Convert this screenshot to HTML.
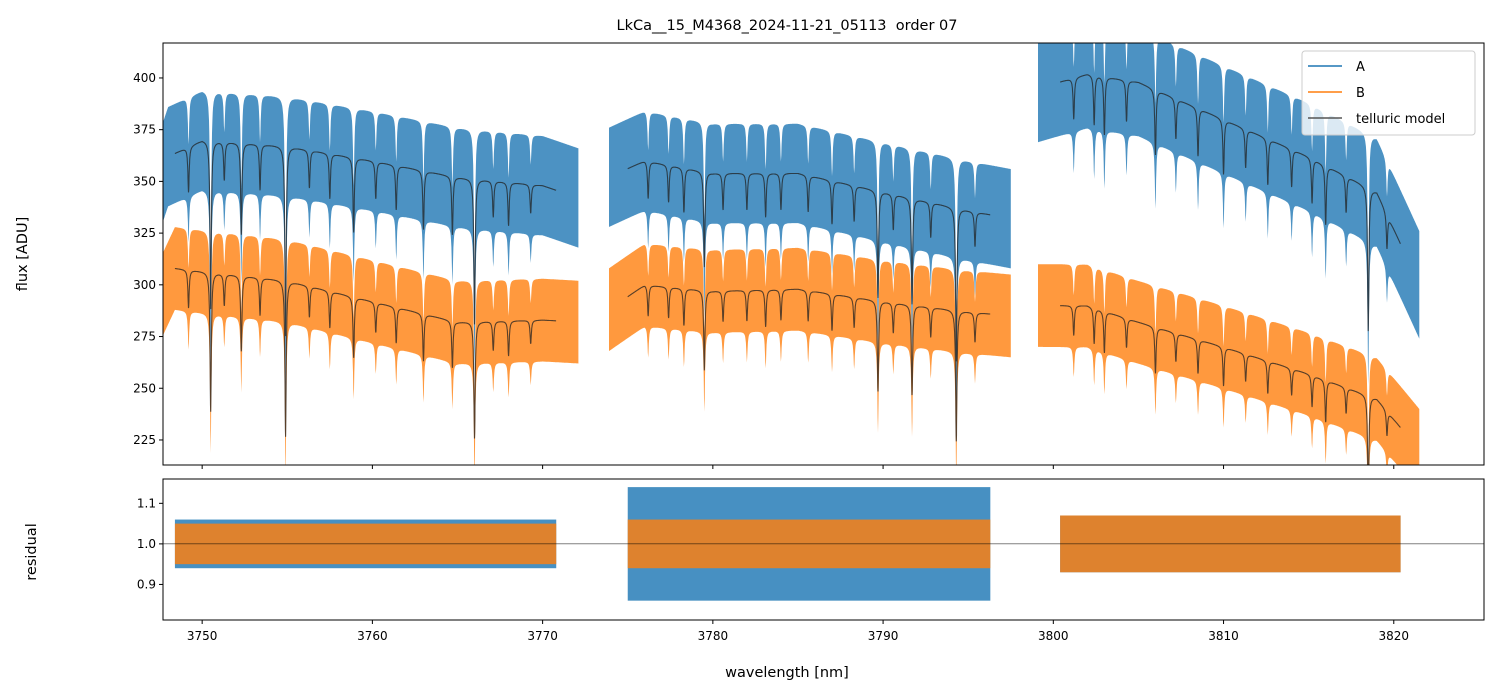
<!DOCTYPE html>
<html><head><meta charset="utf-8">
<style>
html,body{margin:0;padding:0;background:#fff;}
svg{display:block;font-family:"DejaVu Sans","Liberation Sans",sans-serif;}
</style></head>
<body>
<svg id="chart" width="1499" height="696" xmlns="http://www.w3.org/2000/svg">
<text x="787" y="30" text-anchor="middle" font-size="14.5" style="white-space:pre" xml:space="preserve">LkCa__15_M4368_2024-11-21_05113  order 07</text>
<defs>
<clipPath id="clipTop"><rect x="163" y="43" width="1321" height="422"/></clipPath>
<clipPath id="clipBot"><rect x="163" y="479" width="1321" height="141"/></clipPath>
</defs>
<g id="gTop" clip-path="url(#clipTop)"></g>
<g id="gBot" clip-path="url(#clipBot)"></g>
<g id="axes"></g>
</svg>
<script>
// ---- data ----
const xTicks=[3750,3760,3770,3780,3790,3800,3810,3820];
const yTopTicks=[225,250,275,300,325,350,375,400];
const yBotTicks=[0.9,1.0,1.1];
const dataSegs=[[3747.1,3772.1],[3773.9,3797.5],[3799.1,3821.5]];
const modelSegs=[[3748.4,3770.8],[3775.0,3796.3],[3800.4,3820.4]];
const contA=[
 [[3747.1,340],[3748,362],[3750,370],[3755,367],[3760,360],[3765,352],[3770,348],[3772.1,342]],
 [[3773.9,352],[3776,360],[3780,354],[3785,354],[3790,345],[3795,336],[3797.5,332]],
 [[3799.1,395],[3802,402],[3805,398],[3810,380],[3815,362],[3819,345],[3821.5,300]]
];
const contB=[
 [[3747.1,285],[3748.4,308],[3755,302],[3760,292],[3765,282],[3770,283],[3772.1,282]],
 [[3773.9,288],[3776,300],[3780,297],[3785,298],[3790,292],[3795,287],[3797.5,285]],
 [[3799.1,290],[3802,290],[3805,282],[3810,270],[3815,257],[3819,245],[3821.5,220]]
];
const noiseA=[24,24,26];
const noiseB=[20,20,20];
const lineWl=[3749.2,3750.5,3751.3,3752.3,3753.4,3754.9,3756.3,3757.5,3758.9,3760.2,3761.4,3763.0,3764.7,3766.0,3767.1,3768.0,3769.3,
 3776.2,3777.4,3778.3,3779.5,3780.6,3782.0,3783.1,3784.0,3785.6,3787.0,3788.3,3789.7,3790.6,3791.7,3792.8,3794.3,3795.4,
 3801.2,3802.4,3803.0,3804.3,3806.0,3807.2,3808.5,3810.0,3811.3,3812.6,3814.0,3815.2,3816.0,3817.2,3818.5,3819.6];
const lineDepth=[0.06,0.22,0.05,0.12,0.06,0.25,0.05,0.06,0.10,0.05,0.06,0.08,0.08,0.20,0.05,0.06,0.04,
 0.05,0.05,0.06,0.13,0.05,0.05,0.06,0.05,0.05,0.06,0.05,0.15,0.05,0.15,0.05,0.22,0.05,
 0.05,0.06,0.07,0.05,0.08,0.05,0.06,0.07,0.05,0.06,0.05,0.06,0.08,0.05,0.20,0.05];
const resA=[0.06,0.14,0.07];
const resB=[0.05,0.06,0.07];

// ---- axes ----
const X0=163,X1=1484,xmin=3747.7,xmax=3825.3;
const sx=w=>X0+(w-xmin)/(xmax-xmin)*(X1-X0);
const T0=43,T1=465,tmin=212.9,tmax=416.9;
const syT=v=>T1-(v-tmin)/(tmax-tmin)*(T1-T0);
const B0=479,B1=620,bmin=0.8123,bmax=1.16;
const syB=v=>B1-(v-bmin)/(bmax-bmin)*(B1-B0);
const NS="http://www.w3.org/2000/svg";
function mk(tag,attrs,parent){const e=document.createElementNS(NS,tag);for(const k in attrs)e.setAttribute(k,attrs[k]);parent.appendChild(e);return e;}
function interp(pts,w){for(let i=0;i<pts.length-1;i++){if(w<=pts[i+1][0]){const t=(w-pts[i][0])/(pts[i+1][0]-pts[i][0]);return pts[i][1]+t*(pts[i+1][1]-pts[i][1]);}}return pts[pts.length-1][1];}
function trans(w){let t=1;for(let i=0;i<lineWl.length;i++){const d=(w-lineWl[i])/0.045;t*=1-lineDepth[i]/(1+d*d);}return t;}
const gTop=document.getElementById('gTop'),gBot=document.getElementById('gBot'),ax=document.getElementById('axes');
const step=0.02;
function band(cont,noise,color,name){
 cont.forEach((c,si)=>{
  const [a,b]=dataSegs[si];let up=[],lo=[];
  for(let w=a;w<=b;w+=step){const m=interp(c,w),t=trans(w);up.push(sx(w).toFixed(1)+','+syT(m*t+noise[si]*(0.5+0.5*t)).toFixed(1));lo.push(sx(w).toFixed(1)+','+syT(m*t-noise[si]).toFixed(1));}
  const p=mk('polygon',{points:up.concat(lo.reverse()).join(' '),fill:color,'fill-opacity':0.8},gTop);
  
  
 });
}
band(contA,noiseA,'#1f77b4','spectrum-a');
band(contB,noiseB,'#ff7f0e','spectrum-b');
function model(cont,name){
 cont.forEach((c,si)=>{
  const [a,b]=modelSegs[si];let pts=[];
  for(let w=a;w<=b;w+=0.01){pts.push(sx(w).toFixed(1)+','+syT(interp(c,w)*trans(w)).toFixed(1));}
  const p=mk('polyline',{points:pts.join(' '),fill:'none',stroke:'#222','stroke-opacity':0.75,'stroke-width':1.1},gTop);
  
  
 });
}
model(contA,'telluric-model-a');
model(contB,'telluric-model-b');
function rband(hw,color,name){
 modelSegs.forEach((s,si)=>{
  const p=mk('rect',{x:sx(s[0]),y:syB(1+hw[si]),width:sx(s[1])-sx(s[0]),height:syB(1-hw[si])-syB(1+hw[si]),fill:color,'fill-opacity':0.82},gBot);
  
  
 });
}
rband(resA,'#1f77b4','residual-a');
rband(resB,'#ff7f0e','residual-b');
const rl=mk('line',{x1:X0,x2:X1,y1:syB(1),y2:syB(1),stroke:'#000','stroke-width':0.6},gBot);


[[T0,T1,'top-panel-frame'],[B0,B1,'residual-panel-frame']].forEach(f=>{
 const r=mk('rect',{x:X0,y:f[0],width:X1-X0,height:f[1]-f[0],fill:'none',stroke:'#000','stroke-width':1},ax);
 
 
});
xTicks.forEach(v=>{
 const x=sx(v);
 mk('line',{x1:x,x2:x,y1:T1,y2:T1+4,stroke:'#000'},ax);
 mk('line',{x1:x,x2:x,y1:B1,y2:B1+4,stroke:'#000'},ax);
 const t=mk('text',{x:x,y:B1+20,'text-anchor':'middle','font-size':12},ax);
 t.textContent=v;
 
 
});
yTopTicks.forEach(v=>{
 const y=syT(v);
 mk('line',{x1:X0-4,x2:X0,y1:y,y2:y,stroke:'#000'},ax);
 const t=mk('text',{x:X0-7,y:y+4,'text-anchor':'end','font-size':12},ax);
 t.textContent=v;
 
 
});
yBotTicks.forEach(v=>{
 const y=syB(v);
 mk('line',{x1:X0-4,x2:X0,y1:y,y2:y,stroke:'#000'},ax);
 const t=mk('text',{x:X0-7,y:y+4,'text-anchor':'end','font-size':12},ax);
 t.textContent=v.toFixed(1);
 
 
});
const svg=document.getElementById('chart');
function add(tag,attrs,txt){const e=document.createElementNS(NS,tag);for(const k in attrs)e.setAttribute(k,attrs[k]);if(txt)e.textContent=txt;svg.appendChild(e);return e;}
const xl=add('text',{x:787,y:677,'text-anchor':'middle','font-size':14.5},'wavelength [nm]');


const yl=add('text',{x:27,y:254,'text-anchor':'middle','font-size':14.5,transform:'rotate(-90 27 254)'},'flux [ADU]');


const rl2=add('text',{x:36,y:552,'text-anchor':'middle','font-size':14.5,transform:'rotate(-90 36 552)'},'residual');


const lg=add('rect',{x:1302,y:51,width:173,height:84,rx:3,fill:'#fff','fill-opacity':0.8,stroke:'#ccc'});


[['A','#1f77b4',66],['B','#ff7f0e',92],['telluric model','#555',118]].forEach(e=>{
 const l=add('line',{x1:1308,x2:1342,y1:e[2],y2:e[2],stroke:e[1],'stroke-width':1.6});
 
 
 const t=add('text',{x:1356,y:e[2]+5,'font-size':13},e[0]);
 
 
});
</script>
</body></html>
